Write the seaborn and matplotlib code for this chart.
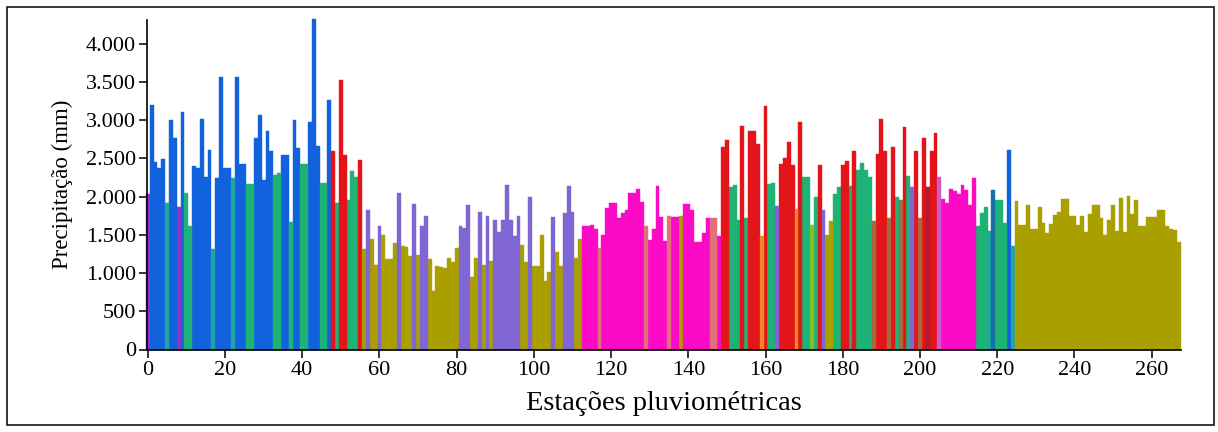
import numpy as np
import pandas as pd
import matplotlib
matplotlib.use("Agg")
import matplotlib.pyplot as plt
from matplotlib.patches import Rectangle
from matplotlib.ticker import FuncFormatter
import seaborn as sns

# ---- data: annual precipitation (mm) per rain-gauge station (index 0..267) ----
precip = [
    2030, 3200, 2450, 2370, 2490, 1920, 3000, 2770, 1870, 3110,
    2050, 1610, 2400, 2370, 3020, 2250, 2610, 1310, 2240, 3560,
    2380, 2380, 2240, 3570, 2430, 2430, 2170, 2170, 2770, 3070,
    2220, 2860, 2590, 2280, 2310, 2540, 2540, 1670, 3000, 2640,
    2430, 2430, 2970, 4320, 2660, 2180, 2180, 3270, 2590, 1920,
    3530, 2550, 1960, 2340, 2260, 2480, 1310, 1830, 1440, 1110,
    1620, 1500, 1190, 1190, 1390, 2050, 1350, 1340, 1220, 1900,
    1240, 1620, 1740, 1190, 760, 1090, 1080, 1070, 1200, 1140,
    1330, 1620, 1590, 1890, 950, 1200, 1800, 1110, 1740, 1160,
    1700, 1540, 1700, 2150, 1700, 1490, 1740, 1370, 1140, 2000,
    1090, 1090, 1500, 890, 1020, 1730, 1270, 1090, 1780, 2140,
    1800, 1200, 1450, 1620, 1620, 1630, 1570, 1330, 1500, 1850,
    1910, 1910, 1720, 1780, 1820, 2050, 2050, 2100, 1930, 1610,
    1430, 1570, 2140, 1730, 1420, 1740, 1730, 1730, 1740, 1900,
    1900, 1820, 1400, 1400, 1530, 1720, 1720, 1720, 1490, 2650,
    2740, 2120, 2150, 1700, 2920, 1720, 2860, 2860, 2690, 1480,
    3190, 2170, 2180, 1880, 2430, 2510, 2720, 2410, 1840, 2980,
    2250, 2250, 1630, 2000, 2410, 1820, 1500, 1680, 2030, 2120,
    2410, 2460, 2140, 2600, 2350, 2440, 2350, 2250, 1680, 2560,
    3020, 2600, 1720, 2650, 1990, 1960, 2910, 2270, 2120, 2600,
    1720, 2770, 2120, 2590, 2830, 2250, 1970, 1920, 2100, 2070,
    2030, 2150, 2090, 1890, 2240, 1610, 1790, 1870, 1550, 2090,
    1950, 1950, 1650, 2610, 1350, 1940, 1630, 1630, 1890, 1580,
    1580, 1860, 1660, 1520, 1640, 1760, 1800, 1970, 1970, 1740,
    1740, 1630, 1740, 1540, 1770, 1890, 1890, 1720, 1500, 1700,
    1890, 1550, 1980, 1540, 2010, 1770, 1960, 1620, 1610, 1730,
    1730, 1730, 1830, 1820, 1620, 1580, 1560, 1400,
]

# group (cluster) code of each station, same order as precip
grupo = (
    ["P"] + ["B"] * 4 + ["T"] + ["B"] * 2 + ["P"] + ["B"] + ["G"] * 2 + ["B"] * 5 + ["T"]
    + ["B"] * 4 + ["T"] + ["B"] * 3 + ["G"] * 2 + ["B"] * 5 + ["G"] * 2 + ["B"] * 2 + ["G"]
    + ["B"] * 2 + ["G"] * 2 + ["B"] * 3 + ["G"] * 2 + ["B"] + ["R"] + ["G"] + ["R"] * 2
    + ["G"] * 3 + ["R"] + ["O"] + ["L"] + ["O"] * 2 + ["L"] + ["O"] * 4 + ["L"] + ["O"] * 3
    + ["L"] + ["O"] + ["L"] * 2 + ["O"] * 8 + ["L"] * 3 + ["O"] * 2 + ["L"] + ["O"] + ["L"]
    + ["O"] + ["L"] * 7 + ["O"] * 2 + ["L"] + ["O"] * 5 + ["L"] + ["O"] * 2 + ["L"] * 3
    + ["O"] * 2 + ["M"] * 4 + ["S"] + ["M"] * 11 + ["S"] + ["M"] * 5 + ["S"] + ["M"] * 2
    + ["O"] + ["M"] * 7 + ["S"] * 2 + ["M"] + ["R"] * 2 + ["G"] * 3 + ["R"] + ["G"]
    + ["R"] * 3 + ["Or"] + ["R"] + ["G"] * 2 + ["L"] + ["R"] * 4 + ["Or"] + ["R"] + ["G"] * 2
    + ["Li"] + ["G"] + ["R"] + ["L"] + ["O"] * 2 + ["G"] * 2 + ["R"] * 2 + ["G"] + ["R"]
    + ["G"] * 4 + ["Br"] + ["R"] * 3 + ["Br"] + ["R"] + ["G"] + ["Br"] + ["R"] + ["G"] + ["L"]
    + ["R"] + ["Br"] + ["R"] + ["DR"] + ["R"] * 2 + ["Orc"] + ["M"] * 9 + ["G"] * 3 + ["T"]
    + ["TB"] + ["G"] * 3 + ["B"] + ["T"] + ["O"] * 43
)

cores = {
    "P": "#9a32c8", "B": "#1262de", "T": "#1fa3a6", "G": "#1db374",
    "R": "#e3141a", "L": "#7f66d2", "O": "#a9a000", "M": "#fb0bc6",
    "S": "#e0707a", "Or": "#f08a20", "Li": "#7ec02e", "Br": "#a66a3c",
    "DR": "#b01c2c", "Orc": "#cf5acb", "TB": "#1a6fa8",
}

yticks = [0, 500, 1000, 1500, 2000, 2500, 3000, 3500, 4000]
xticks = list(range(0, 261, 20))

# ---- figure ----
sns.set_theme(style="white")
plt.rcParams["font.family"] = ["Liberation Serif", "DejaVu Serif"]

df = pd.DataFrame({"estacao": np.arange(len(precip)), "precip": precip, "grupo": grupo})

W, H = 1218, 432
fig = plt.figure(figsize=(W / 100, H / 100), dpi=100)
fig.patch.set_facecolor("white")
ax = fig.add_axes([147 / W, 1 - 349.5 / H, (1181 - 147) / W, (349.5 - 20) / H])

sns.barplot(data=df, x="estacao", y="precip", hue="grupo", palette=cores,
            dodge=False, native_scale=True, width=1.0, legend=False,
            errorbar=None, saturation=1, ax=ax)
for p in ax.patches:
    p.set_edgecolor(p.get_facecolor())
    p.set_linewidth(0.3)
    p.set_clip_on(False)

ax.set_xlim(-0.2, 267.6)
ax.set_ylim(0, 4310)
ax.set_yticks(yticks)
ax.set_xticks(xticks)
ax.yaxis.set_major_formatter(FuncFormatter(lambda v, _: f"{int(v):,}".replace(",", ".")))
ax.xaxis.set_major_formatter(FuncFormatter(lambda v, _: f"{int(v)}"))

for s in ["top", "right"]:
    ax.spines[s].set_visible(False)
for s in ["left", "bottom"]:
    ax.spines[s].set_color("black")
    ax.spines[s].set_linewidth(1.2)
ax.tick_params(axis="both", which="major", direction="out", length=6, width=1.1,
               color="black", labelsize=16, labelcolor="black", left=True, bottom=True)
ax.tick_params(axis="y", pad=2)
ax.tick_params(axis="x", pad=2)

ax.set_ylabel("Precipitação (mm)", fontsize=16.5, color="black", labelpad=9)
ax.set_xlabel("Estações pluviométricas", fontsize=20.5, color="black", labelpad=8)
ax.set_facecolor("white")
ax.grid(False)

fig.patches.append(Rectangle((7 / W, 7 / H), (1214 - 7) / W, (425 - 7) / H,
                             transform=fig.transFigure, fill=False,
                             edgecolor="black", linewidth=1.1))

fig.savefig("out.png", dpi=100)
